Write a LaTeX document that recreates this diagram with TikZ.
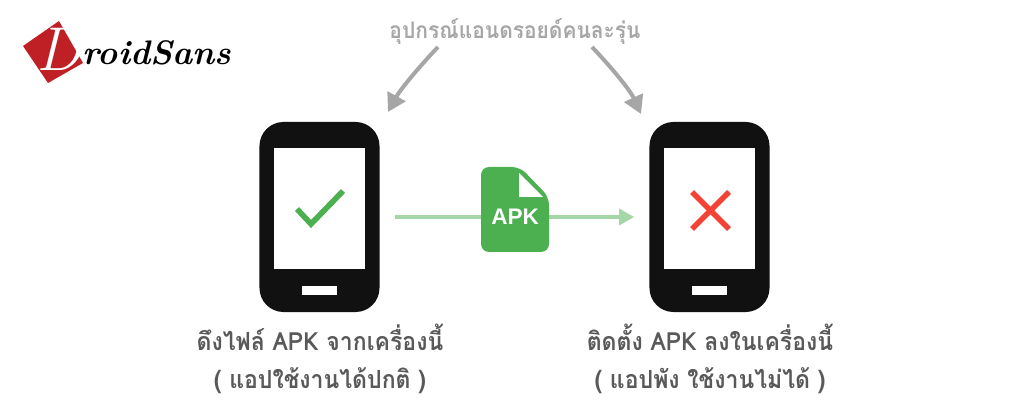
\documentclass[tikz,border=0pt]{standalone}
\usepackage{fontspec}
\newfontfamily\thaifont[Script=Thai,FakeStretch=0.92]{Loma}
\newfontfamily\apkfont{Liberation Sans}
\usetikzlibrary{arrows.meta}
\definecolor{phoneBlack}{HTML}{111111}
\definecolor{textGray}{HTML}{595959}
\definecolor{arrowGray}{HTML}{A6A6A6}
\definecolor{okGreen}{HTML}{4CAF50}
\definecolor{lightGreen}{HTML}{A5D6A7}
\definecolor{badRed}{HTML}{F44336}
\definecolor{logoRed}{HTML}{BE2025}
\tikzset{
	phone/.style={fill=phoneBlack, rectangle, rounded corners=0.6cm, minimum width=3cm, minimum height=4.75cm, inner sep=0pt},
	screen/.style={fill=white, rectangle, minimum width=2.275cm, minimum height=3.025cm, inner sep=0pt},
	homeKey/.style={fill=white, rectangle, minimum width=0.875cm, minimum height=0.225cm, inner sep=0pt},
	caption/.style={text=textGray, align=center, font=\thaifont\bfseries\fontsize{17.8}{26.5}\selectfont, inner sep=0pt},
	topArrow/.style={draw=arrowGray, line width=0.1cm, -{Triangle[length=0.45cm,width=0.5cm]}}
}
\begin{document}
\begin{tikzpicture}[x=0.025cm,y=-0.025cm]
	\useasboundingbox (0,0) rectangle (1024,412);
	
	%Logo
	\fill[logoRed] (59,21) -- (83,63) -- (48,83) -- (23,46) -- cycle;
	\node (logoD) at (59,49) [text=white, inner sep=0pt, font=\itshape\fontsize{44}{44}\selectfont]{D};
	\node (logoText) at (157,53) [text=black, inner sep=0pt, font=\itshape\bfseries\fontsize{24.2}{25}\selectfont]{roidSans};
	
	%Phones
	\node (phoneLeft) at (319.5,217) [phone]{};
	\node (screenLeft) at (319.5,208.5) [screen]{};
	\node (keyLeft) at (319.5,290.5) [homeKey]{};
	\node (phoneRight) at (709.5,217) [phone]{};
	\node (screenRight) at (709.5,208.5) [screen]{};
	\node (keyRight) at (709.5,290.5) [homeKey]{};
	
	%Marks
	\draw[okGreen, line width=0.14cm] (297,209) -- (311,224) -- (343,191);
	\draw[badRed, line width=0.14cm] (692,192) -- (729,229);
	\draw[badRed, line width=0.14cm] (729,192) -- (692,229);
	
	%Links
	\draw[lightGreen, line width=0.09cm, shorten <=0.375cm, shorten >=0.375cm, -{Triangle[length=0.38cm,width=0.4cm]}] (phoneLeft.east) -- (phoneRight.west);
	
	%Texts
	\node (deviceLabel) at (515,31) [caption, text=arrowGray, font=\thaifont\bfseries\fontsize{16.2}{20}\selectfont]{อุปกรณ์แอนดรอยด์คนละรุ่น};
	\node (captionLeft) at (320,359) [caption]{ดึงไฟล์ APK จากเครื่องนี้\\( แอปใช้งานได้ปกติ )};
	\node (captionRight) at (710,359) [caption]{ติดตั้ง APK ลงในเครื่องนี้\\( แอปพัง ใช้งานไม่ได้ )};
	
	\coordinate (curveLeftStart) at (438,47);
	\coordinate (curveLeftEnd) at (388,112);
	\coordinate (curveRightStart) at (592,47);
	\coordinate (curveRightEnd) at (641,114);
	\draw[topArrow] (curveLeftStart) .. controls (418,68) and (400,90) .. (curveLeftEnd);
	\draw[topArrow] (curveRightStart) .. controls (612,68) and (630,90) .. (curveRightEnd);
	
	%APK file
	\fill[okGreen, rounded corners=0.2cm] (481,167) -- (520,167) -- (549,197) -- (549,252) -- (481,252) -- cycle;
	\fill[white] (519,173) -- (543,197) -- (519,197) -- cycle;
	\node (apkLabel) at (515,217) [text=white, inner sep=0pt, font=\apkfont\bfseries\fontsize{16}{16}\selectfont]{APK};
	
\end{tikzpicture}
\end{document}
